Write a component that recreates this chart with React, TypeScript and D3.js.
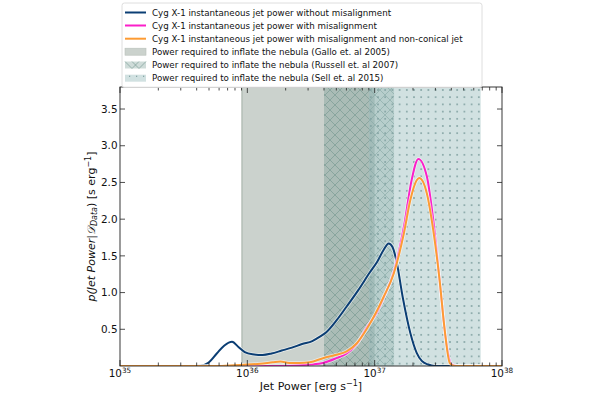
import React from "react";
import * as d3 from "d3";

// log10(jet power) sample positions and densities
const blueLog = [35.0, 35.55, 35.63, 35.69, 35.76, 35.82, 35.88, 35.93, 35.98, 36.04, 36.12, 36.19, 36.27, 36.35, 36.43, 36.51, 36.57, 36.62, 36.70, 36.78, 36.87, 36.96, 37.02, 37.07, 37.11, 37.14, 37.17, 37.22, 37.28, 37.33, 37.37, 37.42, 37.47, 37.55, 38.0];
const blueVal = [0, 0, 0.005, 0.04, 0.17, 0.28, 0.33, 0.26, 0.19, 0.16, 0.15, 0.17, 0.21, 0.25, 0.30, 0.34, 0.40, 0.46, 0.62, 0.81, 1.03, 1.27, 1.42, 1.58, 1.67, 1.62, 1.44, 0.94, 0.45, 0.18, 0.07, 0.02, 0, 0, 0];

const magentaLog = [35.0, 36.3, 36.4, 36.5, 36.6, 36.69, 36.78, 36.86, 36.94, 37.02, 37.07, 37.15, 37.23, 37.29, 37.343, 37.41, 37.46, 37.51, 37.56, 37.6, 37.64, 38.0];
const magentaVal = [0, 0, 0.01, 0.02, 0.045, 0.1, 0.17, 0.3, 0.53, 0.74, 0.93, 1.28, 1.9, 2.53, 2.82, 2.58, 1.99, 1.17, 0.35, 0.03, 0, 0];

const orangeLog = [35.0, 35.8, 35.9, 36.0, 36.1, 36.2, 36.26, 36.33, 36.41, 36.49, 36.6, 36.69, 36.78, 36.86, 36.94, 37.02, 37.07, 37.15, 37.23, 37.28, 37.33, 37.35, 37.41, 37.46, 37.51, 37.55, 37.59, 37.63, 38.0];
const orangeVal = [0, 0, 0.01, 0.02, 0.03, 0.05, 0.06, 0.04, 0.04, 0.05, 0.11, 0.15, 0.2, 0.31, 0.51, 0.76, 0.94, 1.26, 1.81, 2.26, 2.53, 2.56, 2.35, 1.85, 1.17, 0.49, 0.04, 0, 0];

// shaded power ranges [erg/s]
const galloRange = [9e35, 1e37];
const russellRange = [4e36, 1.42e37];
const sellRange = [9e36, 6.8e37];

const legendLabels = [
  "Cyg X-1 instantaneous jet power without misalignment",
  "Cyg X-1 instantaneous jet power with misalignment",
  "Cyg X-1 instantaneous jet power with misalignment and non-conical jet",
  "Power required to inflate the nebula (Gallo et. al 2005)",
  "Power required to inflate the nebula (Russell et. al 2007)",
  "Power required to inflate the nebula (Sell et. al 2015)",
];
const yTicks = [0.5, 1.0, 1.5, 2.0, 2.5, 3.0, 3.5];
const xDecades = [35, 36, 37, 38];

const BLUE = "#0b3e74";
const MAGENTA = "#fb1fc9";
const ORANGE = "#fd9b33";
const FONT = "DejaVu Sans, sans-serif";

export default function App() {
  const L = 120, R = 502, T = 87, B = 366;
  const x = d3.scaleLog().domain([1e35, 1e38]).range([L, R]);
  const y = d3.scaleLinear().domain([0, 3.8]).range([B, T]);

  const mk = (logs: number[], vals: number[]) =>
    d3
      .line<number>()
      .x((_, i) => x(Math.pow(10, logs[i])))
      .y((v) => y(v))
      .curve(d3.curveMonotoneX)(vals) as string;

  const series = [
    { d: mk(blueLog, blueVal), c: BLUE },
    { d: mk(magentaLog, magentaVal), c: MAGENTA },
    { d: mk(orangeLog, orangeVal), c: ORANGE },
  ];

  const allTicks = x.ticks();
  const isMajor = (t: number) => Math.abs(Math.log10(t) - Math.round(Math.log10(t))) < 1e-9;

  const legendY = [12.5, 25.5, 38.7, 51.7, 65, 78.2];

  return (
    <svg width={600} height={400} style={{ display: "block", position: "absolute", left: 0, top: 0 }} fontFamily={FONT}>
      <defs>
        <pattern id="xhatch" width={10} height={10} patternUnits="userSpaceOnUse">
          <path d="M0,0 L10,10 M10,0 L0,10" stroke="#6f948b" strokeWidth={0.7} strokeOpacity={0.8} />
        </pattern>
        <pattern id="dots" width={7.2} height={7.2} patternUnits="userSpaceOnUse">
          <rect x={2.8} y={2.8} width={1.6} height={1.6} fill="#7fa0a0" />
        </pattern>
        <clipPath id="plotclip">
          <rect x={L} y={T} width={R - L} height={B - T} />
        </clipPath>
      </defs>
      <rect width={600} height={400} fill="white" />

      <g clipPath="url(#plotclip)">
        <rect x={x(galloRange[0])} y={T} width={x(galloRange[1]) - x(galloRange[0])} height={B - T} fill="#98a69b" fillOpacity={0.5} />
        <rect x={x(galloRange[0])} y={T} width={1} height={B - T} fill="#aab4ad" />
        <rect x={x(russellRange[0])} y={T} width={x(russellRange[1]) - x(russellRange[0])} height={B - T} fill="#5f8a80" fillOpacity={0.3} />
        <rect x={x(russellRange[0])} y={T} width={x(russellRange[1]) - x(russellRange[0])} height={B - T} fill="url(#xhatch)" />
        <rect x={x(sellRange[0])} y={T} width={x(sellRange[1]) - x(sellRange[0])} height={B - T} fill="#98bcbc" fillOpacity={0.45} />
        <rect x={x(sellRange[0])} y={T} width={x(sellRange[1]) - x(sellRange[0])} height={B - T} fill="url(#dots)" />

        {series.map((s, i) => (
          <g key={i}>
            <path d={s.d} fill="none" stroke="white" strokeOpacity={0.6} strokeWidth={3.6} />
            <path d={s.d} fill="none" stroke={s.c} strokeWidth={2} strokeLinejoin="round" />
          </g>
        ))}
      </g>

      {/* ticks */}
      {allTicks.map((t, i) => {
        const len = isMajor(t) ? 6 : 3.5;
        const xx = x(t);
        return (
          <g key={i} stroke="#222" strokeWidth={0.8}>
            <line x1={xx} x2={xx} y1={B} y2={B - len} />
            <line x1={xx} x2={xx} y1={T} y2={T + len} />
          </g>
        );
      })}
      {yTicks.map((t, i) => (
        <g key={i} stroke="#222" strokeWidth={0.8}>
          <line x1={L} x2={L + 5} y1={y(t)} y2={y(t)} />
          <line x1={R} x2={R - 5} y1={y(t)} y2={y(t)} />
        </g>
      ))}
      <rect x={L} y={T} width={R - L} height={B - T} fill="none" stroke="#222" strokeWidth={0.9} />

      {yTicks.map((t, i) => (
        <text key={i} x={L - 2.5} y={y(t) + 3.7} fontSize={10.4} textAnchor="end" fill="#111">
          {t.toFixed(1)}
        </text>
      ))}
      {xDecades.map((d, i) => (
        <text key={i} x={x(Math.pow(10, d))} y={377} fontSize={10.4} textAnchor="middle" fill="#111">
          10<tspan dy={-4.5} fontSize={7.3}>{d}</tspan>
        </text>
      ))}

      <text x={(L + R) / 2} y={390} fontSize={11} textAnchor="middle" fill="#111">
        Jet Power [erg s<tspan dy={-4} fontSize={8}>−1</tspan><tspan dy={4}>]</tspan>
      </text>
      <text transform={`translate(95,${(T + B) / 2}) rotate(-90)`} fontSize={11} textAnchor="middle" fill="#111">
        <tspan fontStyle="italic">p(Jet Power|𝒟</tspan>
        <tspan fontStyle="italic" fontSize={8} dy={2}>Data</tspan>
        <tspan dy={-2}>) [s erg</tspan>
        <tspan fontSize={8} dy={-4}>−1</tspan>
        <tspan dy={4}>]</tspan>
      </text>

      {/* legend */}
      <rect x={122} y={3} width={360} height={84.5} rx={2.5} fill="white" fillOpacity={0.9} stroke="#d6d6d6" strokeWidth={0.8} />
      {legendLabels.map((lab, i) => {
        const yy = legendY[i];
        let handle: React.ReactNode;
        if (i < 3) {
          handle = <line x1={125} x2={146} y1={yy} y2={yy} stroke={[BLUE, MAGENTA, ORANGE][i]} strokeWidth={2} />;
        } else if (i === 3) {
          handle = <rect x={125} y={yy - 3.5} width={21} height={7} fill="#98a69b" fillOpacity={0.5} stroke="#b8c0ba" strokeWidth={0.6} />;
        } else if (i === 4) {
          handle = (
            <g>
              <rect x={125} y={yy - 3.5} width={21} height={7} fill="#5f8a80" fillOpacity={0.3} />
              <path d={`M125,${yy - 3.5} L132,${yy + 3.5} L139,${yy - 3.5} M132,${yy - 3.5} L139,${yy + 3.5} L146,${yy - 3.5}`} stroke="#6f948b" strokeWidth={0.6} fill="none" />
            </g>
          );
        } else {
          handle = (
            <g>
              <rect x={125} y={yy - 3.5} width={21} height={7} fill="#98bcbc" fillOpacity={0.45} />
              {[129, 136, 143].map((dx) => (
                <rect key={dx} x={dx} y={yy - 2.5} width={1.2} height={1.2} fill="#7fa0a0" />
              ))}
            </g>
          );
        }
        return (
          <g key={i}>
            {handle}
            <text x={152} y={yy + 3.2} fontSize={8.7} fill="#111">
              {lab}
            </text>
          </g>
        );
      })}
    </svg>
  );
}
